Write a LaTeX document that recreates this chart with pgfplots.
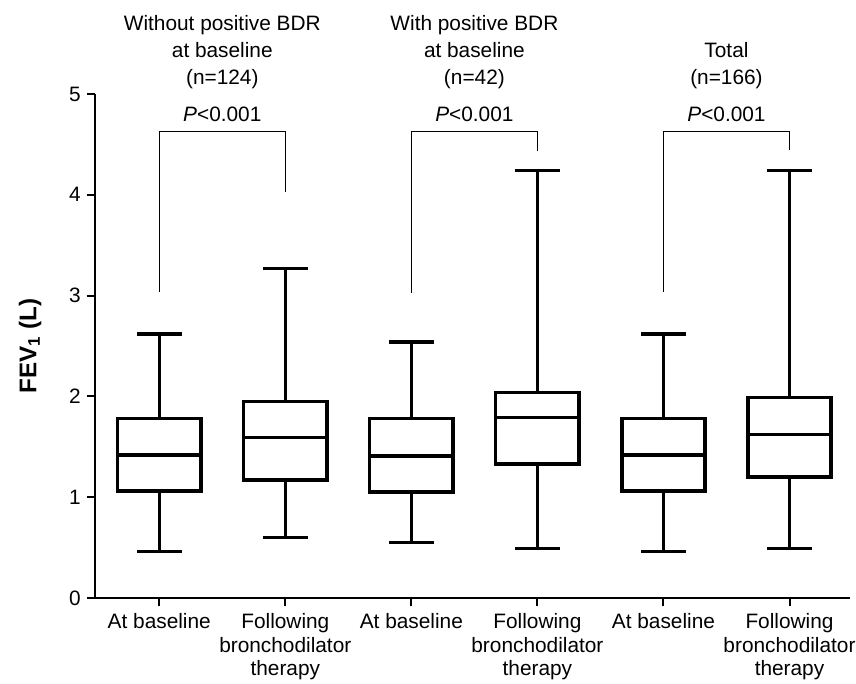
\documentclass[border=0pt]{standalone}
\usepackage{pgfplots}
\pgfplotsset{compat=1.18}
\usepgfplotslibrary{statistics}
\usepackage{fontspec}
\setmainfont{Liberation Sans}

\begin{document}
\begin{tikzpicture}
\begin{axis}[
  scale only axis,
  width=453pt, height=302.4pt,
  xmin=0.49, xmax=6.48, ymin=0, ymax=5,
  axis x line*=bottom, axis y line*=left,
  axis line style={line width=1.2pt},
  tick style={line width=1.2pt, black},
  tick align=outside, major tick length=5pt,
  xtick={1,...,6},
  xticklabels={At baseline, Following\\bronchodilator\\therapy,
               At baseline, Following\\bronchodilator\\therapy,
               At baseline, Following\\bronchodilator\\therapy},
  xticklabel style={align=center, font=\fontsize{12.5}{14}\selectfont, yshift=-1pt},
  ytick={0,...,5},
  yticklabel style={font=\fontsize{12.5}{14}\selectfont},
  /pgf/number format/assume math mode=true,
  ylabel={\textbf{FEV\textsubscript{1} (L)}},
  every axis y label/.style={at={(axis description cs:-0.086,0.5)}, rotate=90, anchor=center,
    font=\fontsize{14.5}{16}\selectfont},
  clip=false,
  boxplot/draw direction=y,
  boxplot/box extend=0.66,
  boxplot/whisker extend=0.355,
]
% boxes
\addplot[black, line width=2pt, fill=white, boxplot prepared={lower whisker=0.46, lower quartile=1.06, median=1.42, upper quartile=1.78, upper whisker=2.62, draw position=1}] coordinates {};
\addplot[black, line width=2pt, fill=white, boxplot prepared={lower whisker=0.60, lower quartile=1.17, median=1.59, upper quartile=1.95, upper whisker=3.27, draw position=2}] coordinates {};
\addplot[black, line width=2pt, fill=white, boxplot prepared={lower whisker=0.55, lower quartile=1.05, median=1.41, upper quartile=1.78, upper whisker=2.54, draw position=3}] coordinates {};
\addplot[black, line width=2pt, fill=white, boxplot prepared={lower whisker=0.49, lower quartile=1.33, median=1.79, upper quartile=2.04, upper whisker=4.24, draw position=4}] coordinates {};
\addplot[black, line width=2pt, fill=white, boxplot prepared={lower whisker=0.46, lower quartile=1.06, median=1.42, upper quartile=1.78, upper whisker=2.62, draw position=5}] coordinates {};
\addplot[black, line width=2pt, fill=white, boxplot prepared={lower whisker=0.49, lower quartile=1.20, median=1.62, upper quartile=1.99, upper whisker=4.24, draw position=6}] coordinates {};
% significance brackets
\addplot[black, line width=0.8pt, mark=none] coordinates {(1,3.04) (1,4.63) (2,4.63) (2,4.03)};
\addplot[black, line width=0.8pt, mark=none] coordinates {(3,3.03) (3,4.63) (4,4.63) (4,4.43)};
\addplot[black, line width=0.8pt, mark=none] coordinates {(5,3.04) (5,4.63) (6,4.63) (6,4.44)};
\node[font=\fontsize{12.5}{14}\selectfont] at (axis cs:1.5,4.80) {\textit{P}<0.001};
\node[font=\fontsize{12.5}{14}\selectfont] at (axis cs:3.5,4.80) {\textit{P}<0.001};
\node[font=\fontsize{12.5}{14}\selectfont] at (axis cs:5.5,4.80) {\textit{P}<0.001};
% group headers
\node[font=\fontsize{12.5}{16.2}\selectfont, align=center, anchor=south, inner sep=0pt] at (axis cs:1.5,5.05) {Without positive BDR\\at baseline\\(n=124)};
\node[font=\fontsize{12.5}{16.2}\selectfont, align=center, anchor=south, inner sep=0pt] at (axis cs:3.5,5.05) {With positive BDR\\at baseline\\(n=42)};
\node[font=\fontsize{12.5}{16.2}\selectfont, align=center, anchor=south, inner sep=0pt] at (axis cs:5.5,5.05) {Total\\(n=166)};
\coordinate (SW) at (rel axis cs:0,0);
\coordinate (NE) at (rel axis cs:1,1);
\end{axis}
\pgfresetboundingbox
\path ([xshift=-57pt,yshift=-51pt]SW) rectangle ([xshift=3.6pt,yshift=56.4pt]NE);
\end{tikzpicture}
\end{document}
